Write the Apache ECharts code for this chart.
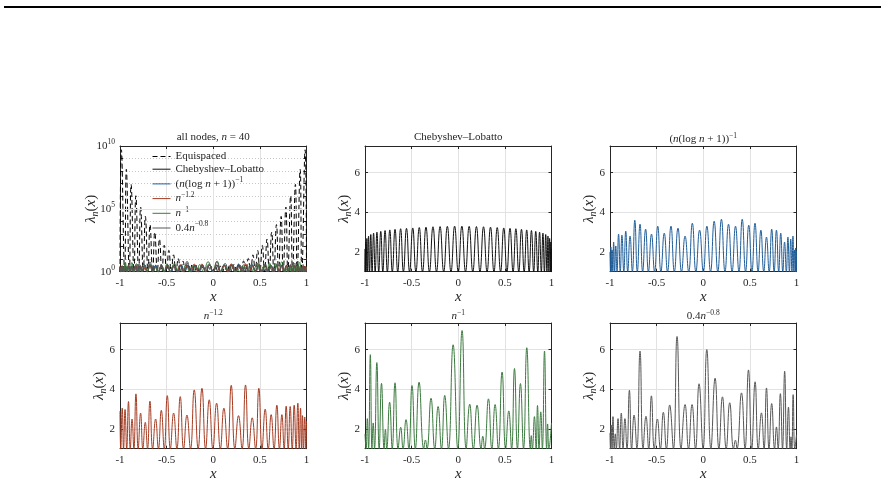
<!DOCTYPE html>
<html>
<head>
<meta charset="utf-8">
<script src="https://cdn.jsdelivr.net/npm/echarts@6/dist/echarts.min.js"></script>
<style>
  html, body { margin: 0; padding: 0; background: #fff; }
  #chart { width: 886px; height: 484px; }
</style>
</head>
<body>
<div id="chart"></div>
<script>
// values: nodes (where lambda = 1), lobe peaks [x, lambda], values at x = -1 / 1
const equiNodes = [-1, -0.95, -0.9, -0.85, -0.8, -0.75, -0.7, -0.65, -0.6, -0.55, -0.5, -0.45, -0.4, -0.35, -0.3,
  -0.25, -0.2, -0.15, -0.1, -0.05, 0, 0.05, 0.1, 0.15, 0.2, 0.25, 0.3, 0.35, 0.4, 0.45, 0.5, 0.55, 0.6, 0.65,
  0.7, 0.75, 0.8, 0.85, 0.9, 0.95, 1];
const equiPeaks = [[-0.985, 5.0e9], [-0.932, 1.4e8], [-0.881, 8.9e6], [-0.83, 1.1e6], [-0.779, 1.4e5],
  [-0.728, 2.5e4], [-0.678, 5600], [-0.627, 1400], [-0.577, 400], [-0.526, 126], [-0.476, 50], [-0.426, 22],
  [-0.375, 11.2], [-0.325, 7.1], [-0.275, 5.0], [-0.225, 4.0], [-0.175, 3.3], [-0.125, 2.95], [-0.075, 2.75],
  [-0.025, 2.7], [0.025, 2.7], [0.075, 2.75], [0.125, 2.95], [0.175, 3.3], [0.225, 4.0], [0.275, 5.0],
  [0.325, 7.1], [0.375, 11.2], [0.426, 22], [0.476, 50], [0.526, 126], [0.577, 400], [0.627, 1400],
  [0.678, 5600], [0.728, 2.5e4], [0.779, 1.4e5], [0.83, 1.1e6], [0.881, 8.9e6], [0.932, 1.4e8], [0.985, 5.0e9]];

const clNodes = [-1, -0.997, -0.988, -0.972, -0.951, -0.924, -0.891, -0.853, -0.809, -0.76, -0.707, -0.649,
  -0.588, -0.522, -0.454, -0.383, -0.309, -0.233, -0.156, -0.078, 0, 0.078, 0.156, 0.233, 0.309, 0.383, 0.454,
  0.522, 0.588, 0.649, 0.707, 0.76, 0.809, 0.853, 0.891, 0.924, 0.951, 0.972, 0.988, 0.997, 1];
const clPeaks = [[-0.998, 2.15], [-0.992, 2.5], [-0.98, 2.68], [-0.962, 2.8], [-0.938, 2.88], [-0.908, 2.95],
  [-0.872, 3.0], [-0.831, 3.04], [-0.785, 3.08], [-0.734, 3.11], [-0.678, 3.14], [-0.618, 3.17], [-0.555, 3.19],
  [-0.488, 3.21], [-0.418, 3.23], [-0.346, 3.25], [-0.271, 3.27], [-0.195, 3.28], [-0.117, 3.29], [-0.039, 3.3],
  [0.039, 3.3], [0.117, 3.29], [0.195, 3.28], [0.271, 3.27], [0.346, 3.25], [0.418, 3.23], [0.488, 3.21],
  [0.555, 3.19], [0.618, 3.17], [0.678, 3.14], [0.734, 3.11], [0.785, 3.08], [0.831, 3.04], [0.872, 3.0],
  [0.908, 2.95], [0.938, 2.88], [0.962, 2.8], [0.98, 2.68], [0.992, 2.5], [0.998, 2.15]];

const blueNodes = [-0.995, -0.986, -0.97, -0.95, -0.925, -0.89, -0.852, -0.81, -0.76, -0.707, -0.65, -0.588,
  -0.522, -0.454, -0.383, -0.31, -0.233, -0.156, -0.079, 0.001, 0.078, 0.156, 0.233, 0.309, 0.383, 0.454, 0.522,
  0.588, 0.649, 0.707, 0.76, 0.809, 0.853, 0.891, 0.924, 0.951, 0.972, 0.988, 0.996];
const bluePeaks = [[-0.991, 2.25], [-0.978, 2.1], [-0.961, 2.5], [-0.938, 2.3], [-0.908, 2.9], [-0.872, 2.85],
  [-0.831, 3.05], [-0.785, 2.8], [-0.734, 3.6], [-0.678, 3.4], [-0.618, 3.15], [-0.555, 2.9], [-0.488, 3.3],
  [-0.418, 2.95], [-0.346, 3.3], [-0.271, 3.2], [-0.195, 2.8], [-0.117, 3.45], [-0.039, 3.1], [0.039, 3.3],
  [0.117, 3.55], [0.195, 3.65], [0.271, 3.4], [0.346, 3.3], [0.418, 3.65], [0.488, 3.35], [0.555, 3.45],
  [0.618, 3.1], [0.678, 2.75], [0.734, 3.15], [0.785, 3.1], [0.831, 2.95], [0.872, 2.5], [0.908, 2.75],
  [0.938, 2.65], [0.962, 2.8], [0.98, 2.1], [0.992, 2.2]];
const blueEnds = [2.0, 2.05];

const redNodes = [-0.992, -0.962, -0.928, -0.89, -0.851, -0.805, -0.755, -0.705, -0.65, -0.588, -0.525, -0.46,
  -0.39, -0.318, -0.244, -0.162, -0.082, -0.004, 0.076, 0.154, 0.232, 0.309, 0.382, 0.454, 0.523, 0.59, 0.652,
  0.71, 0.76, 0.804, 0.847, 0.888, 0.922, 0.947, 0.968, 0.993];
const redPeaks = [[-0.976, 3.05], [-0.946, 2.98], [-0.909, 3.38], [-0.871, 2.5], [-0.829, 3.77], [-0.779, 2.8],
  [-0.729, 2.33], [-0.679, 3.4], [-0.618, 2.5], [-0.557, 2.94], [-0.493, 3.68], [-0.425, 2.8], [-0.354, 3.63],
  [-0.282, 2.7], [-0.204, 3.97], [-0.121, 4.05], [-0.043, 3.47], [0.036, 3.3], [0.114, 3.05], [0.193, 4.2],
  [0.271, 2.67], [0.346, 4.22], [0.418, 2.56], [0.489, 4.05], [0.557, 3.0], [0.621, 2.72], [0.682, 3.2],
  [0.736, 2.72], [0.782, 3.15], [0.825, 3.13], [0.868, 3.2], [0.907, 3.3], [0.936, 3.05], [0.957, 2.67],
  [0.981, 2.6]];
const redEnds = [2.9, 2.4];

const greenNodes = [-0.988, -0.962, -0.925, -0.898, -0.848, -0.795, -0.767, -0.708, -0.645, -0.592, -0.53,
  -0.46, -0.37, -0.335, -0.252, -0.18, -0.105, -0.005, 0.085, 0.162, 0.245, 0.282, 0.36, 0.43, 0.508, 0.572,
  0.635, 0.7, 0.773, 0.795, 0.835, 0.866, 0.902, 0.948, 0.972];
const greenPeaks = [[-0.975, 2.52], [-0.943, 5.75], [-0.912, 2.3], [-0.873, 5.35], [-0.823, 4.3], [-0.781, 1.97],
  [-0.736, 3.35], [-0.678, 4.33], [-0.617, 2.08], [-0.56, 2.47], [-0.496, 4.19], [-0.42, 4.36], [-0.352, 1.44],
  [-0.292, 3.55], [-0.216, 3.13], [-0.145, 3.69], [-0.055, 6.25], [0.041, 6.97], [0.123, 3.25], [0.202, 3.2],
  [0.263, 1.63], [0.324, 3.52], [0.395, 3.23], [0.47, 4.87], [0.542, 2.91], [0.603, 5.05], [0.667, 4.29],
  [0.735, 6.1], [0.783, 1.66], [0.817, 2.62], [0.85, 3.18], [0.885, 2.86], [0.925, 5.93], [0.958, 2.25]];
const greenEnds = [1.75, 2.3];

const grayNodes = [-0.995, -0.978, -0.955, -0.932, -0.897, -0.86, -0.818, -0.768, -0.712, -0.645, -0.585,
  -0.525, -0.46, -0.395, -0.32, -0.238, -0.158, -0.083, -0.002, 0.082, 0.168, 0.246, 0.325, 0.362, 0.448, 0.52,
  0.59, 0.652, 0.705, 0.765, 0.803, 0.85, 0.895, 0.932, 0.95, 0.982];
const grayPeaks = [[-0.988, 2.2], [-0.968, 2.62], [-0.943, 1.75], [-0.914, 2.52], [-0.879, 2.8], [-0.84, 2.52],
  [-0.792, 3.95], [-0.742, 2.7], [-0.678, 5.93], [-0.614, 2.64], [-0.556, 3.67], [-0.492, 2.5], [-0.428, 2.84],
  [-0.36, 3.21], [-0.281, 6.67], [-0.195, 3.23], [-0.12, 3.23], [-0.045, 4.28], [0.038, 6.01], [0.127, 4.56],
  [0.206, 3.62], [0.284, 3.32], [0.345, 1.43], [0.41, 3.82], [0.485, 4.98], [0.556, 4.38], [0.624, 2.81],
  [0.678, 4.07], [0.734, 3.28], [0.785, 2.1], [0.827, 3.78], [0.873, 4.91], [0.914, 3.1], [0.941, 1.6],
  [0.964, 3.73]];
const grayEnds = [1.8, 1.7];

const xTicks = [-1, -0.5, 0, 0.5, 1];
const linTicks = [2, 4, 6];
const logLabelExps = [0, 5, 10];

const font = 'Liberation Serif';
const ink = '#262626';
const gridGray = '#e2e2e2';
const colors = { equi: '#000000', cl: '#111111', blue: '#1f5d99', red: '#a53b21', green: '#3b7a3e', gray: '#565656' };

// merge nodes (lambda = 1), peaks and end values into one sorted curve
function curve(nodes, peaks, ends) {
  const pts = nodes.map(x => [x, 1]).concat(peaks);
  if (ends) pts.push([-1, ends[0]], [1, ends[1]]);
  return pts.sort((a, b) => a[0] - b[0]);
}

const boxes = [[120, 146], [365, 146], [610, 146], [120, 323], [365, 323], [610, 323]];
const W = 186.5, H = 125.7;

const rich = {
  i: { fontFamily: font, fontStyle: 'italic', fontSize: 11, color: ink },
  r: { fontFamily: font, fontSize: 11, color: ink },
  s: { fontFamily: font, fontSize: 7.5, color: ink, verticalAlign: 'top', lineHeight: 15 }
};

const xAxis = [], yAxis = [];
boxes.forEach((b, i) => {
  xAxis.push({
    gridIndex: i, type: 'value', min: -1, max: 1, interval: 0.5, position: 'bottom',
    axisLine: { show: true, onZero: false, lineStyle: { color: ink, width: 1 } },
    axisTick: { show: true, inside: true, length: 3, lineStyle: { color: ink } },
    axisLabel: { color: ink, fontFamily: font, fontSize: 11, margin: 6,
      formatter: v => (xTicks.indexOf(v) >= 0 ? String(v) : '') },
    splitLine: { show: true, lineStyle: { color: gridGray, width: 1 } },
    name: 'x', nameLocation: 'middle', nameGap: 18, nameMoveOverlap: false,
    nameTextStyle: { fontFamily: font, fontStyle: 'italic', fontSize: 15, color: ink }
  });
});
boxes.forEach((b, i) => {
  xAxis.push({
    gridIndex: i, type: 'value', min: -1, max: 1, interval: 0.5, position: 'top',
    axisLine: { show: true, onZero: false, lineStyle: { color: ink, width: 1 } },
    axisTick: { show: true, inside: true, length: 3, lineStyle: { color: ink } },
    axisLabel: { show: false }, splitLine: { show: false }
  });
});

const yName = {
  name: '{l|λ}{n|n}{p|(}{x|x}{p|)}', nameLocation: 'middle', nameRotate: 90, nameMoveOverlap: false,
  nameTextStyle: { rich: {
    l: { fontFamily: font, fontStyle: 'italic', fontSize: 15, color: ink },
    n: { fontFamily: font, fontStyle: 'italic', fontSize: 10, color: ink, verticalAlign: 'bottom', lineHeight: 18 },
    p: { fontFamily: font, fontSize: 15, color: ink },
    x: { fontFamily: font, fontStyle: 'italic', fontSize: 15, color: ink }
  } }
};

function logAxis(pos, withLabels) {
  return Object.assign({
    gridIndex: 0, type: 'log', logBase: 10, min: 1, max: 1e10, interval: 1, splitNumber: 10, position: pos,
    axisLine: { show: true, onZero: false, lineStyle: { color: ink, width: 1 } },
    axisTick: { show: true, inside: true, length: 3, lineStyle: { color: ink } },
    axisLabel: withLabels ? {
      color: ink, fontFamily: font, fontSize: 11, margin: 5,
      formatter: v => {
        const e = Math.round(Math.log10(v));
        return logLabelExps.indexOf(e) >= 0 ? '{r|10}{s|' + e + '}' : '';
      },
      rich: rich
    } : { show: false },
    splitLine: { show: withLabels, lineStyle: { color: '#c8c8c8', type: [1, 2], width: 1 } }
  }, withLabels ? Object.assign({ nameGap: 20 }, yName) : {});
}

function linAxis(i, pos, withLabels) {
  return Object.assign({
    gridIndex: i, type: 'value', min: 1, max: 7.35, splitNumber: 3, minInterval: 2, maxInterval: 2, position: pos,
    axisLine: { show: true, onZero: false, lineStyle: { color: ink, width: 1 } },
    axisTick: { show: true, inside: true, length: 3, lineStyle: { color: ink } },
    axisLabel: withLabels ? { color: ink, fontFamily: font, fontSize: 11, margin: 5,
      showMinLabel: false, showMaxLabel: false,
      formatter: v => (linTicks.indexOf(v) >= 0 ? String(v) : '') } : { show: false },
    splitLine: { show: withLabels, lineStyle: { color: gridGray, width: 1 } }
  }, withLabels ? Object.assign({ nameGap: 12 }, yName) : {});
}

yAxis.push(logAxis('left', true));
for (let i = 1; i < 6; i++) yAxis.push(linAxis(i, 'left', true));
yAxis.push(logAxis('right', false));
for (let i = 1; i < 6; i++) yAxis.push(linAxis(i, 'right', false));

function line(name, data, color, idx, extra) {
  return Object.assign({
    type: 'line', name: name, data: data, xAxisIndex: idx, yAxisIndex: idx,
    symbol: 'none', showSymbol: false, smooth: 0.5, silent: true, animation: false,
    lineStyle: { color: color, width: 1 }, itemStyle: { color: color }
  }, extra || {});
}

const equi = curve(equiNodes, equiPeaks);
const cl = curve(clNodes, clPeaks);
const blue = curve(blueNodes, bluePeaks, blueEnds);
const red = curve(redNodes, redPeaks, redEnds);
const green = curve(greenNodes, greenPeaks, greenEnds);
const gray = curve(grayNodes, grayPeaks, grayEnds);

const series = [
  line('Equispaced', equi, colors.equi, 0, {
    lineStyle: { color: colors.equi, width: 1, type: [5, 3] },
    markLine: { silent: true, symbol: 'none', label: { show: false }, animation: false,
      lineStyle: { color: gridGray, type: 'solid', width: 1 }, data: [{ yAxis: 1e5 }] }
  }),
  line('Chebyshev–Lobatto', cl, colors.cl, 0),
  line('nlog', blue, colors.blue, 0),
  line('n12', red, colors.red, 0),
  line('n1', green, colors.green, 0),
  line('n08', gray, colors.gray, 0),
  line('cl2', cl, colors.cl, 1),
  line('blue3', blue, colors.blue, 2),
  line('red4', red, colors.red, 3),
  line('green5', green, colors.green, 4),
  line('gray6', gray, colors.gray, 5)
];

const legendText = {
  'Equispaced': '{r|Equispaced}',
  'Chebyshev–Lobatto': '{r|Chebyshev–Lobatto}',
  'nlog': '{r|(}{i|n}{r|(log }{i|n}{r| + 1))}{s|−1}',
  'n12': '{i|n}{s|−1.2}',
  'n1': '{i|n}{s|−1}',
  'n08': '{r|0.4}{i|n}{s|−0.8}'
};

const titleText = [
  '{r|all nodes, }{i|n}{r| = 40}',
  '{r|Chebyshev–Lobatto}',
  '{r|(}{i|n}{r|(log }{i|n}{r| + 1))}{s|−1}',
  '{i|n}{s|−1.2}',
  '{i|n}{s|−1}',
  '{r|0.4}{i|n}{s|−0.8}'
];

const option = {
  backgroundColor: '#fff',
  animation: false,
  grid: boxes.map(b => ({ left: b[0], top: b[1], width: W, height: H, show: false, containLabel: false })),
  title: titleText.map((t, i) => ({
    text: t, left: boxes[i][0] + W / 2, top: boxes[i][1] - 14, textAlign: 'center', padding: 0,
    textStyle: { fontFamily: font, fontSize: 11, fontWeight: 'normal', color: ink, rich: rich }
  })),
  legend: {
    orient: 'vertical', left: 152, top: 151, padding: 0, itemGap: 1.7, itemWidth: 18, itemHeight: 12,
    selectedMode: false, data: Object.keys(legendText),
    itemStyle: { opacity: 0 },
    lineStyle: { width: 1 },
    formatter: name => legendText[name],
    textStyle: { fontFamily: font, fontSize: 11, color: ink, rich: rich }
  },
  xAxis: xAxis,
  yAxis: yAxis,
  series: series,
  graphic: [{ type: 'rect', left: 4, top: 6, shape: { width: 877, height: 2 }, style: { fill: '#000' }, silent: true }]
};

const chart = echarts.init(document.getElementById('chart'), null, { renderer: 'canvas' });
chart.setOption(option);
</script>
</body>
</html>
